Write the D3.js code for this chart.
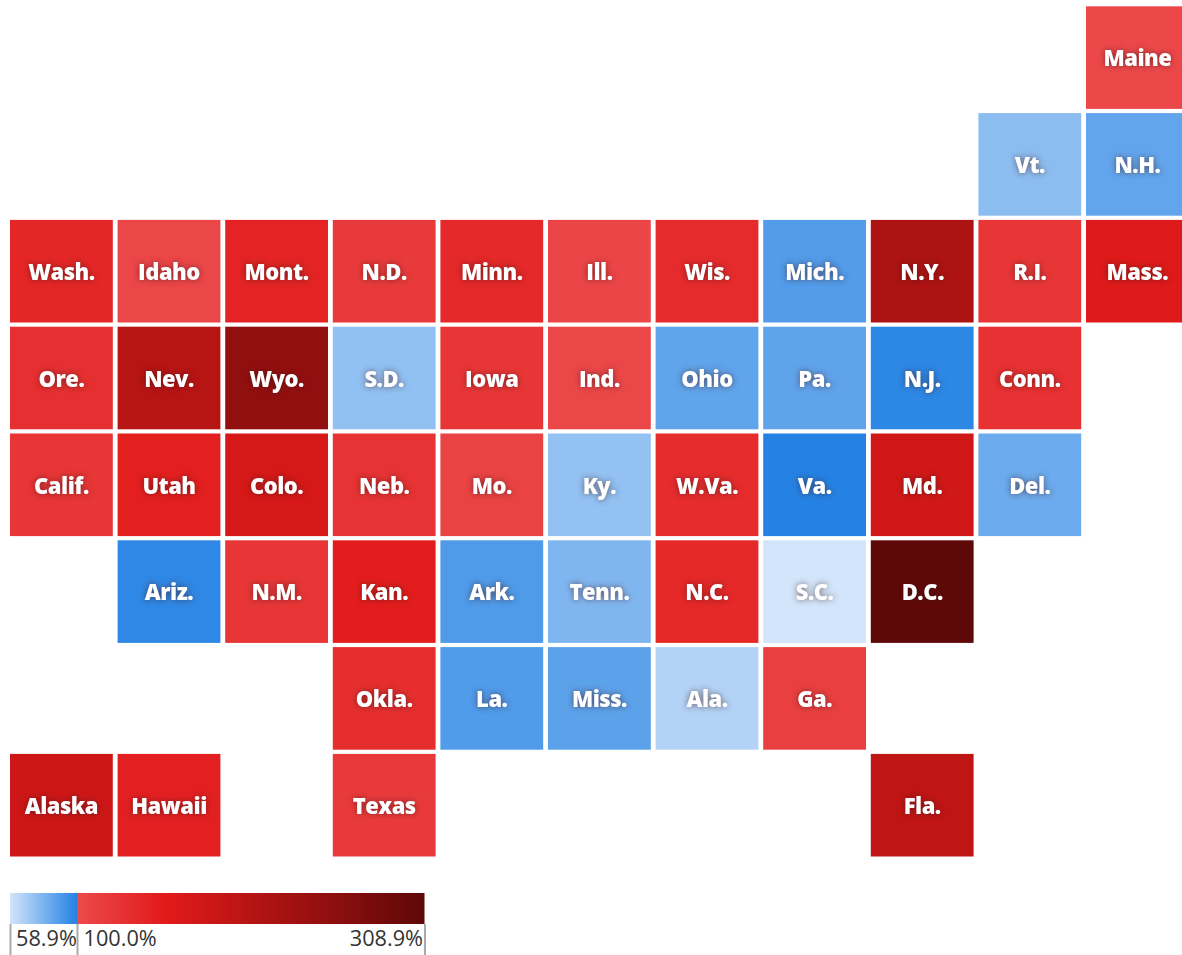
<!DOCTYPE html>
<html>
<head>
<meta charset="utf-8">
<script src="https://cdn.jsdelivr.net/npm/d3@7"></script>
<style>
  body { margin: 0; background: #fff; overflow: hidden; }
  svg { display: block; }
  .tile-label {
    font-family: "Open Sans", sans-serif;
    font-weight: 800;
    font-size: 22px;
    letter-spacing: -0.5px;
    fill: #fff;
    text-anchor: middle;
    filter: drop-shadow(0 0 3px rgba(60, 20, 20, 0.6));
  }
  .legend-axis text { font-family: "Open Sans", sans-serif; font-size: 21.7px; fill: #333; }
  .legend-axis line { stroke: #aaa; stroke-width: 2px; }
  .legend-axis path { display: none; }
</style>
</head>
<body>
<div id="plot"></div>
<script>
// tile map, one list per row, "" = no state in that column
const tileRows = [
  ["", "", "", "", "", "", "", "", "", "", "Maine"],
  ["", "", "", "", "", "", "", "", "", "Vt.", "N.H."],
  ["Wash.", "Idaho", "Mont.", "N.D.", "Minn.", "Ill.", "Wis.", "Mich.", "N.Y.", "R.I.", "Mass."],
  ["Ore.", "Nev.", "Wyo.", "S.D.", "Iowa", "Ind.", "Ohio", "Pa.", "N.J.", "Conn."],
  ["Calif.", "Utah", "Colo.", "Neb.", "Mo.", "Ky.", "W.Va.", "Va.", "Md.", "Del."],
  ["", "Ariz.", "N.M.", "Kan.", "Ark.", "Tenn.", "N.C.", "S.C.", "D.C."],
  ["", "", "", "Okla.", "La.", "Miss.", "Ala.", "Ga."],
  ["Alaska", "Hawaii", "", "Texas", "", "", "", "", "Fla."]
];

// percent values estimated from the tile colours, same order as tileRows
const tileValues = [
  [null, null, null, null, null, null, null, null, null, null, 102],
  [null, null, null, null, null, null, null, null, null, 75.4, 85.4],
  [140, 104, 142, 118, 137, 105, 134, 89.1, 216, 122, 157],
  [130, 204, 248, 74.3, 122, 103, 85.8, 86.1, 97.9, 128],
  [123, 148, 167, 125, 108, 74, 133, 99.8, 174, 83],
  [null, 97.4, 122, 150, 89.8, 78.3, 138, 58.9, 308.9],
  [null, null, null, 131, 89.6, 86.8, 66.5, 112],
  [178, 146, null, 118, null, null, null, null, 193]
];

const blueDomain = [58.9, 100];
const blueColors = ["#d2e5fa", "#2482e4"];
const redDomain = [100, 153, 308.9];
const redColors = ["#ec4a4c", "#e21a1a", "#5f0808"];
const legendTicks = [58.9, 100, 308.9];

const width = 1182;
const height = 955;

const blueScale = d3.scaleLinear().domain(blueDomain).range(blueColors);
const redScale = d3.scaleLinear().domain(redDomain).range(redColors);

// below 100 is blue, 100 and up is red
function tileColor(v) {
  return v < 100 ? blueScale(v) : redScale(v);
}

const tiles = [];
tileRows.forEach((row, r) => {
  row.forEach((name, c) => {
    if (name !== "") tiles.push({ name: name, col: c, row: r, value: tileValues[r][c] });
  });
});

const svg = d3.select("div#plot")
  .append("svg")
  .attr("width", width)
  .attr("height", height);

const xScale = d3.scaleBand()
  .domain(d3.range(11))
  .range([10, 10 + 11 * 107.6 - 4.8])
  .paddingInner(4.8 / 107.6);

const yScale = d3.scaleBand()
  .domain(d3.range(8))
  .range([6.3, 6.3 + 8 * 106.8 - 4.2])
  .paddingInner(4.2 / 106.8);

svg.selectAll(".tile")
  .data(tiles)
  .enter().append("rect")
  .attr("class", "tile")
  .attr("x", d => xScale(d.col))
  .attr("y", d => yScale(d.row))
  .attr("width", xScale.bandwidth())
  .attr("height", yScale.bandwidth())
  .attr("fill", d => tileColor(d.value));

svg.selectAll(".tile-label")
  .data(tiles)
  .enter().append("text")
  .attr("class", "tile-label")
  .attr("x", d => xScale(d.col) + xScale.bandwidth() / 2)
  .attr("y", d => yScale(d.row) + yScale.bandwidth() / 2 + 1)
  .attr("dy", "0.35em")
  .text(d => d.name);

// legend
const legendX = d3.scaleLinear()
  .domain(legendTicks)
  .range([10, 77, 424.5]);

const defs = svg.append("defs");

const blueGradient = defs.append("linearGradient").attr("id", "blue-ramp");
blueGradient.selectAll("stop")
  .data(blueDomain)
  .enter().append("stop")
  .attr("offset", d => (d - blueDomain[0]) / (blueDomain[1] - blueDomain[0]))
  .attr("stop-color", d => blueScale(d));

const redGradient = defs.append("linearGradient").attr("id", "red-ramp");
redGradient.selectAll("stop")
  .data(redDomain)
  .enter().append("stop")
  .attr("offset", d => (d - 100) / (308.9 - 100))
  .attr("stop-color", d => redScale(d));

const legendTop = 893;
const legendBarHeight = 31;

svg.append("rect")
  .attr("x", legendX(blueDomain[0]))
  .attr("y", legendTop)
  .attr("width", legendX(blueDomain[1]) - legendX(blueDomain[0]))
  .attr("height", legendBarHeight)
  .attr("fill", "url(#blue-ramp)");

svg.append("rect")
  .attr("x", legendX(100))
  .attr("y", legendTop)
  .attr("width", legendX(308.9) - legendX(100))
  .attr("height", legendBarHeight)
  .attr("fill", "url(#red-ramp)");

const legendAxis = svg.append("g")
  .attr("class", "legend-axis")
  .attr("transform", `translate(0,${legendTop + legendBarHeight})`)
  .call(d3.axisBottom(legendX)
    .tickValues(legendTicks)
    .tickSize(31)
    .tickFormat(d => d.toFixed(1) + "%"));

legendAxis.selectAll(".tick text")
  .attr("y", 2)
  .attr("dy", "0.9em")
  .attr("x", (d, i) => [5.5, 6, -2][i])
  .style("text-anchor", (d, i) => i === 2 ? "end" : "start");
</script>
</body>
</html>
